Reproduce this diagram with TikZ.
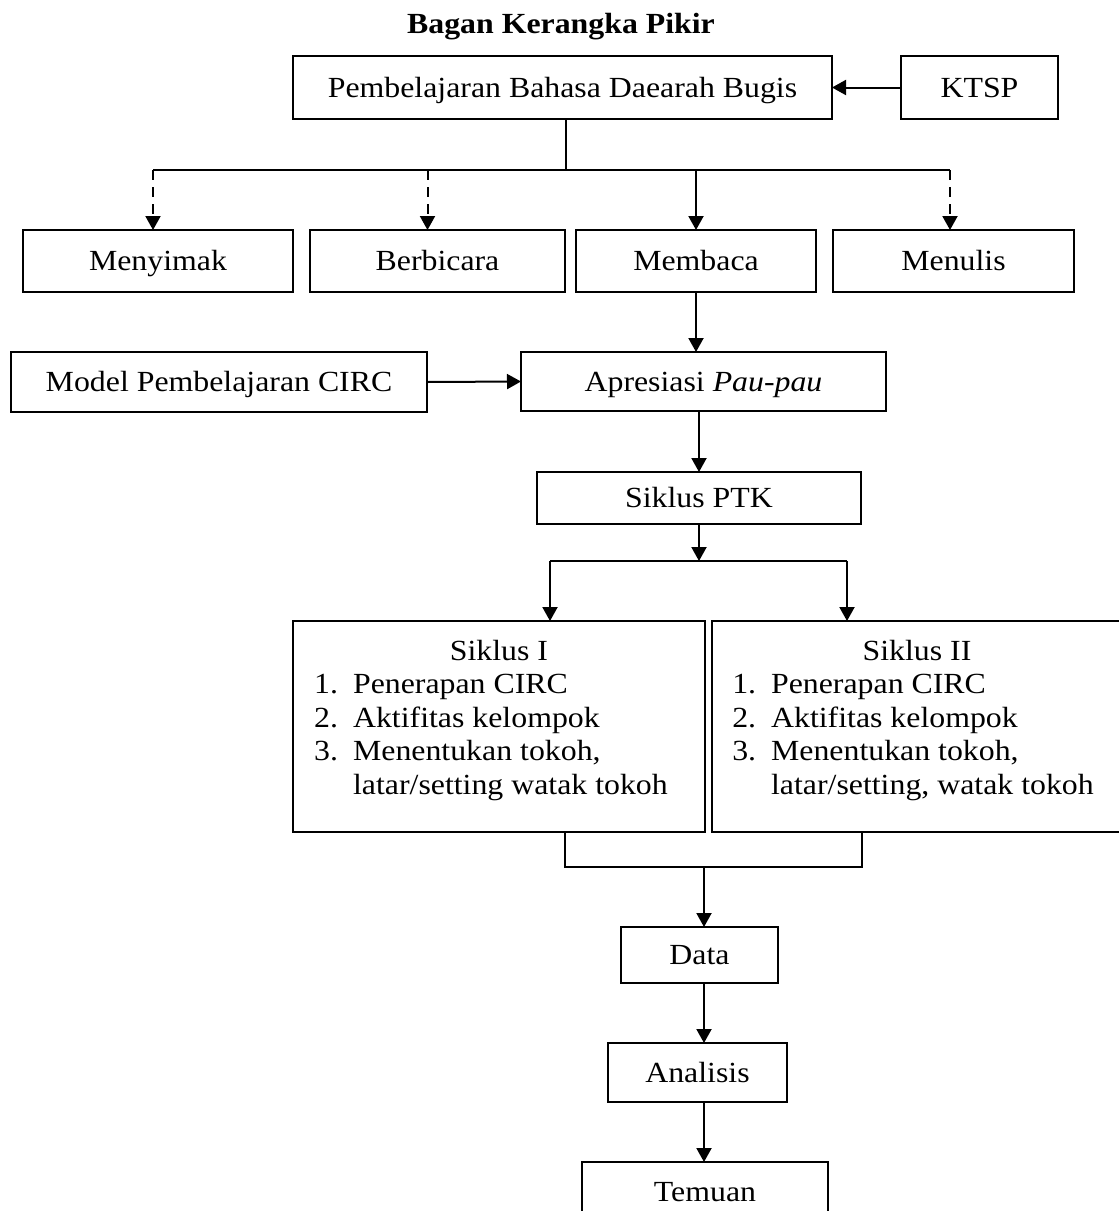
\documentclass[tikz,border=0pt]{standalone}
\usepackage{fontspec}
\setmainfont[FakeStretch=1.09]{Liberation Serif}
\usepackage{tikz}
\usetikzlibrary{arrows.meta}

\begin{document}
\begin{tikzpicture}[
    x=0.5pt, y=-0.5pt,
    font=\fontsize{14.6}{16.75}\selectfont,
    box/.style={rectangle, draw, line width=0.8pt, inner sep=0pt, outer sep=0pt, align=center, text height=11pt, text depth=1.5pt},
    listbox/.style={rectangle, draw, line width=0.8pt, inner sep=0pt, outer sep=0pt},
    line/.style={line width=1pt},
    arrow/.style={-{Triangle[length=7pt,width=7.5pt]}, line width=1pt},
    dasharrow/.style={arrow, dash pattern=on 5pt off 3.5pt}
]
    \useasboundingbox (0,0) rectangle (1119,1211);

    \node[font=\fontsize{14.6}{16.75}\selectfont\bfseries] (title) at (561,27) {Bagan Kerangka Pikir};

    \node[box, minimum width=269.5pt, minimum height=31.5pt] (bugis) at (562.5,87.5) {Pembelajaran Bahasa Daearah Bugis};
    \node[box, minimum width=78.5pt, minimum height=31.5pt] (ktsp) at (979.5,87.5) {KTSP};

    \node[box, minimum width=135pt, minimum height=31pt] (menyimak) at (158,261) {Menyimak};
    \node[box, minimum width=127.5pt, minimum height=31pt] (berbicara) at (437.5,261) {Berbicara};
    \node[box, minimum width=120pt, minimum height=31pt] (membaca) at (696,261) {Membaca};
    \node[box, minimum width=120.5pt, minimum height=31pt] (menulis) at (953.5,261) {Menulis};

    \node[box, minimum width=208pt, minimum height=30pt] (model) at (219,382) {Model Pembelajaran CIRC};
    \node[box, minimum width=182.5pt, minimum height=29.5pt] (apresiasi) at (703.5,381.5) {Apresiasi \textit{Pau-pau}};
    \node[box, minimum width=162pt, minimum height=26pt] (ptk) at (699,498) {Siklus PTK};

    \node[listbox, minimum width=206pt, minimum height=105.5pt] (siklus1) at (499,726.5) {%
        \begin{tabular}{@{}l@{\hspace{7.5pt}}l@{\hspace{8pt}}}
            \multicolumn{2}{c}{Siklus I}\\
            1. & Penerapan CIRC\\
            2. & Aktifitas kelompok\\
            3. & Menentukan tokoh,\\
               & latar/setting watak tokoh\\[6pt]
        \end{tabular}};
    \node[listbox, minimum width=205pt, minimum height=105.5pt] (siklus2) at (917,726.5) {%
        \begin{tabular}{@{}l@{\hspace{7.5pt}}l@{\hspace{4pt}}}
            \multicolumn{2}{c}{Siklus II}\\
            1. & Penerapan CIRC\\
            2. & Aktifitas kelompok\\
            3. & Menentukan tokoh,\\
               & latar/setting, watak tokoh\\[6pt]
        \end{tabular}};

    \node[box, minimum width=78.5pt, minimum height=28pt] (data) at (699.5,955) {Data};
    \node[box, minimum width=89.5pt, minimum height=29.5pt] (analisis) at (697.5,1072.5) {Analisis};
    \node[box, minimum width=123pt, minimum height=30pt] (temuan) at (705,1192) {Temuan};

    \coordinate (split) at (566,170);
    \coordinate (left) at (153,170);
    \coordinate (right) at (950,170);
    \coordinate (bl) at (550,561);
    \coordinate (br) at (847,561);
    \coordinate (jl) at (565,867);
    \coordinate (jr) at (862,867);
    \coordinate (join) at (704,867);

    \draw[arrow] (ktsp.west) -- (bugis.east);
    \draw[line] (split |- bugis.south) -- (split);
    \draw[line] (left) -- (right);
    \draw[dasharrow] (left) -- (left |- menyimak.north);
    \draw[dasharrow] ([xshift=-5pt]berbicara.north |- left) -- ([xshift=-5pt]berbicara.north);
    \draw[arrow] (membaca.north |- left) -- (membaca.north);
    \draw[dasharrow] (right) -- (right |- menulis.north);

    \draw[arrow] (membaca.south) -- (membaca.south |- apresiasi.north);
    \draw[arrow] (model.east) -- (apresiasi.west);
    \draw[arrow] (ptk.north |- apresiasi.south) -- (ptk.north);

    \draw[arrow] (ptk.south) -- (ptk.south |- bl);
    \draw[line] (bl) -- (br);
    \draw[arrow] (bl) -- (bl |- siklus1.north);
    \draw[arrow] (br) -- (br |- siklus2.north);

    \draw[line] (jl |- siklus1.south) -- (jl) -- (jr) -- (jr |- siklus2.south);
    \draw[arrow] (join) -- (join |- data.north);
    \draw[arrow] (join |- data.south) -- (join |- analisis.north);
    \draw[arrow] (join |- analisis.south) -- (join |- temuan.north);
\end{tikzpicture}
\end{document}
